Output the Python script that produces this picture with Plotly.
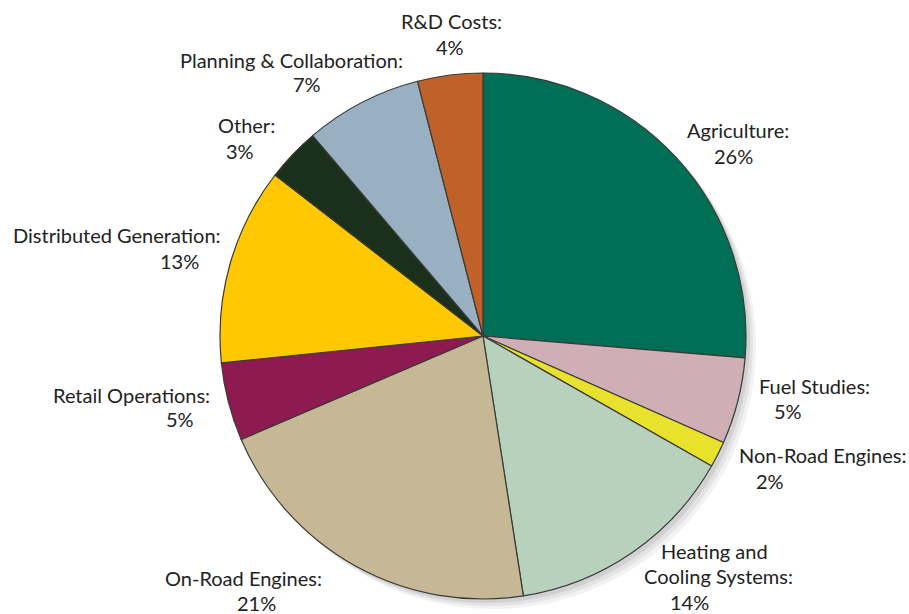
import plotly.graph_objects as go

categories = ["Agriculture", "Fuel Studies", "Non-Road Engines", "Heating and Cooling Systems",
              "On-Road Engines", "Retail Operations", "Distributed Generation", "Other",
              "Planning & Collaboration", "R&D Costs"]
# slice sizes
values = [26.3, 5.3, 1.6, 14.3, 21.0, 4.8, 12.1, 3.3, 7.2, 4.0]
# percentages as printed on the chart
pct_labels = ["26%", "5%", "2%", "14%", "21%", "5%", "13%", "3%", "7%", "4%"]
colors = ["#006F55", "#D0AEB6", "#E8E22C", "#B7D1BD", "#C6B894",
          "#8E1B4F", "#FFC800", "#1B301B", "#98B0C2", "#C0612A"]
name_lines = [["Agriculture:"], ["Fuel Studies:"], ["Non-Road Engines:"],
              ["Heating and", "Cooling Systems:"], ["On-Road Engines:"],
              ["Retail Operations:"], ["Distributed Generation:"], ["Other:"],
              ["Planning & Collaboration:"], ["R&D Costs:"]]

W, H = 909, 614
# label placement in pixels: (name line centers..., percent center)
label_pos = [
    [(738, 130), (733, 156)],
    [(814, 386), (788, 411)],
    [(822, 455), (770, 481)],
    [(714, 551), (718, 576), (689, 602)],
    [(243, 578), (256, 603)],
    [(131, 395), (180, 419)],
    [(117, 235), (179, 261)],
    [(246, 125), (240, 151)],
    [(291, 60), (307, 84)],
    [(451, 21), (450, 47)],
]

cx, cy, r = 483, 336, 263

fig = go.Figure()
fig.add_trace(go.Pie(
    labels=categories, values=values, sort=False, direction="clockwise", rotation=0,
    marker=dict(colors=colors, line=dict(color="#3a3a3a", width=1.2)),
    textinfo="none", hoverinfo="label", showlegend=False,
    domain=dict(x=[(cx - r) / W, (cx + r) / W], y=[1 - (cy + r) / H, 1 - (cy - r) / H]),
))

annotations = []
for lines, pct, pos in zip(name_lines, pct_labels, label_pos):
    texts = lines + [pct]
    for t, (px, py) in zip(texts, pos):
        annotations.append(dict(
            x=px / W, y=1 - py / H, xref="paper", yref="paper", text=t, showarrow=False,
            xanchor="center", yanchor="middle",
            font=dict(family="Lato", size=20, color="#222222"),
        ))

# soft shadow
shapes = []
for off, op in [(10, 0.05), (7, 0.06), (4, 0.08)]:
    shapes.append(dict(type="circle", xref="paper", yref="paper",
                       x0=(cx - r + off) / W, x1=(cx + r + off) / W,
                       y0=1 - (cy + r + off) / H, y1=1 - (cy - r + off) / H,
                       fillcolor=f"rgba(0,0,0,{op})", line=dict(width=0), layer="below"))

fig.update_layout(width=W, height=H, margin=dict(l=0, r=0, t=0, b=0),
                  paper_bgcolor="white", plot_bgcolor="white",
                  annotations=annotations, shapes=shapes)
fig.write_html("out.html", config={"displayModeBar": False},
               post_script="document.body.style.margin='0';document.body.style.overflow='hidden';")
